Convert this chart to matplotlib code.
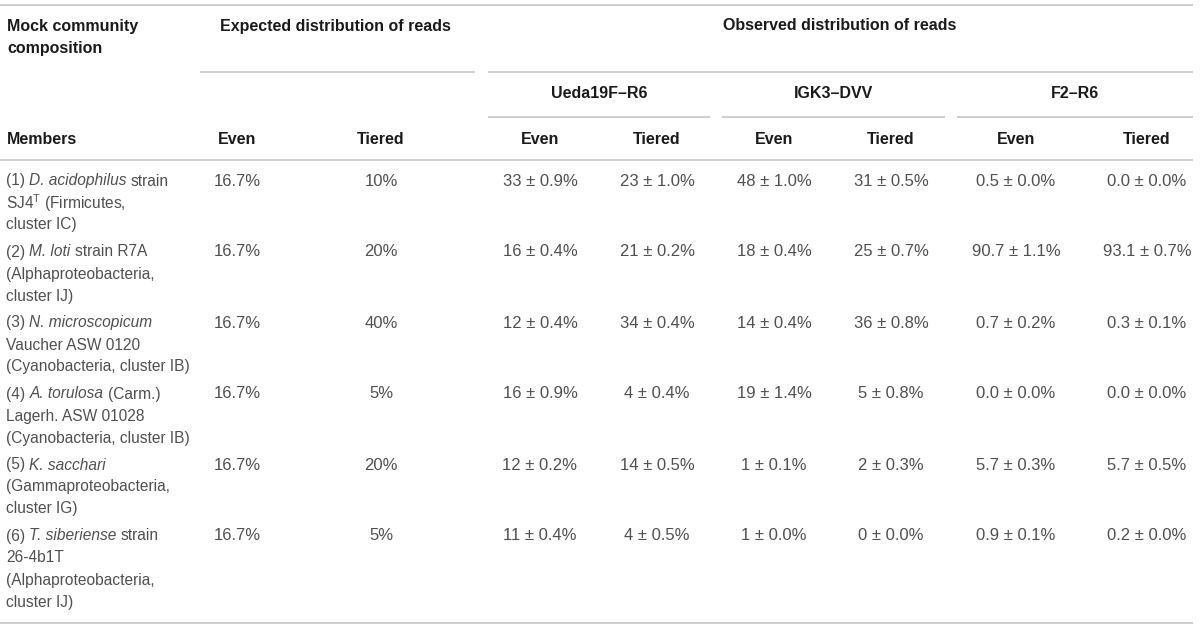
import matplotlib
matplotlib.use("Agg")
import matplotlib.pyplot as plt

plt.rcParams['font.family'] = ['Liberation Sans', 'DejaVu Sans']
plt.rcParams['mathtext.fontset'] = 'custom'
plt.rcParams['mathtext.rm'] = 'Liberation Sans'
plt.rcParams['mathtext.it'] = 'Liberation Sans:italic'

# Table content (*...* marks italic species names)
members = [
    ["(1) *D. acidophilus* strain", r"SJ4$^{\mathrm{T}}$ (Firmicutes,", "cluster IC)"],
    ["(2) *M. loti* strain R7A", "(Alphaproteobacteria,", "cluster IJ)"],
    ["(3) *N. microscopicum*", "Vaucher ASW 0120", "(Cyanobacteria, cluster IB)"],
    ["(4) *A. torulosa* (Carm.)", "Lagerh. ASW 01028", "(Cyanobacteria, cluster IB)"],
    ["(5) *K. sacchari*", "(Gammaproteobacteria,", "cluster IG)"],
    ["(6) *T. siberiense* strain", "26-4b1T", "(Alphaproteobacteria,", "cluster IJ)"],
]
expected_even = ["16.7%", "16.7%", "16.7%", "16.7%", "16.7%", "16.7%"]
expected_tiered = ["10%", "20%", "40%", "5%", "20%", "5%"]
ueda_even = ["33 ± 0.9%", "16 ± 0.4%", "12 ± 0.4%", "16 ± 0.9%", "12 ± 0.2%", "11 ± 0.4%"]
ueda_tiered = ["23 ± 1.0%", "21 ± 0.2%", "34 ± 0.4%", "4 ± 0.4%", "14 ± 0.5%", "4 ± 0.5%"]
igk3_even = ["48 ± 1.0%", "18 ± 0.4%", "14 ± 0.4%", "19 ± 1.4%", "1 ± 0.1%", "1 ± 0.0%"]
igk3_tiered = ["31 ± 0.5%", "25 ± 0.7%", "36 ± 0.8%", "5 ± 0.8%", "2 ± 0.3%", "0 ± 0.0%"]
f2_even = ["0.5 ± 0.0%", "90.7 ± 1.1%", "0.7 ± 0.2%", "0.0 ± 0.0%", "5.7 ± 0.3%", "0.9 ± 0.1%"]
f2_tiered = ["0.0 ± 0.0%", "93.1 ± 0.7%", "0.3 ± 0.1%", "0.0 ± 0.0%", "5.7 ± 0.5%", "0.2 ± 0.0%"]
primers = ["Ueda19F–R6", "IGK3–DVV", "F2–R6"]

value_columns = [expected_even, expected_tiered, ueda_even, ueda_tiered,
                 igk3_even, igk3_tiered, f2_even, f2_tiered]

# layout (pixel coordinates)
col_x = [237, 381, 540, 657, 774, 891, 1016, 1147]
primer_spans = [(488, 710), (722, 945), (957, 1193)]
line_color = "#c9c9c9"
head_color = "#1a1a1a"
body_color = "#505050"
head_size = 11.5
member_size = 11.2
value_size = 12

fig = plt.figure(figsize=(12, 6.29), dpi=100)
ax = fig.add_axes([0, 0, 1, 1])
ax.set_xlim(0, 1200)
ax.set_ylim(629, 0)
ax.axis("off")
renderer = fig.canvas.get_renderer()


def text_width(s, **kw):
    t = ax.text(0, 0, s, **kw)
    w = t.get_window_extent(renderer).width
    t.remove()
    return w


# rules
ax.hlines([5, 160, 623], 0, 1193, color=line_color, lw=1.3)
ax.hlines(72, 200, 475, color=line_color, lw=1.3)
ax.hlines(72, 488, 1193, color=line_color, lw=1.3)
for x0, x1 in primer_spans:
    ax.hlines(117, x0, x1, color=line_color, lw=1.3)

# headers
hk = dict(fontsize=head_size, fontweight="bold", color=head_color, va="center")
ax.text(7, 26, "Mock community", ha="left", **hk)
ax.text(7, 48, "composition", ha="left", **hk)
ax.text(220, 26, "Expected distribution of reads", ha="left", **hk)
ax.text(840, 26, "Observed distribution of reads", ha="center", **hk)
for (x0, x1), name in zip(primer_spans, primers):
    ax.text((x0 + x1) / 2, 94, name, ha="center", **hk)
ax.text(7, 140, "Members", ha="left", **hk)
for i, x in enumerate(col_x):
    ax.text(x, 140, "Even" if i % 2 == 0 else "Tiered", ha="center", **hk)

# body
mk = dict(fontsize=member_size, color=body_color, va="center", ha="left")
space_w = text_width("x x", **mk) - text_width("xx", **mk)


def draw_member_line(x, y, line):
    parts = line.split("*")
    for j, part in enumerate(parts):
        if not part:
            continue
        if part.startswith(" "):
            x += space_w
        chunk = part.strip()
        if chunk:
            t = ax.text(x, y, chunk, style="italic" if j % 2 else "normal", **mk)
            x += t.get_window_extent(renderer).width
        if part.endswith(" ") and part.strip():
            x += space_w


vk = dict(fontsize=value_size, color=body_color, va="center", ha="center")
for r, lines in enumerate(members):
    y0 = 181 + r * 71
    for k, line in enumerate(lines):
        draw_member_line(6, y0 + k * 22, line)
    for x, col in zip(col_x, value_columns):
        ax.text(x, y0, col[r], **vk)

fig.savefig("out.png", dpi=100, facecolor="white")
